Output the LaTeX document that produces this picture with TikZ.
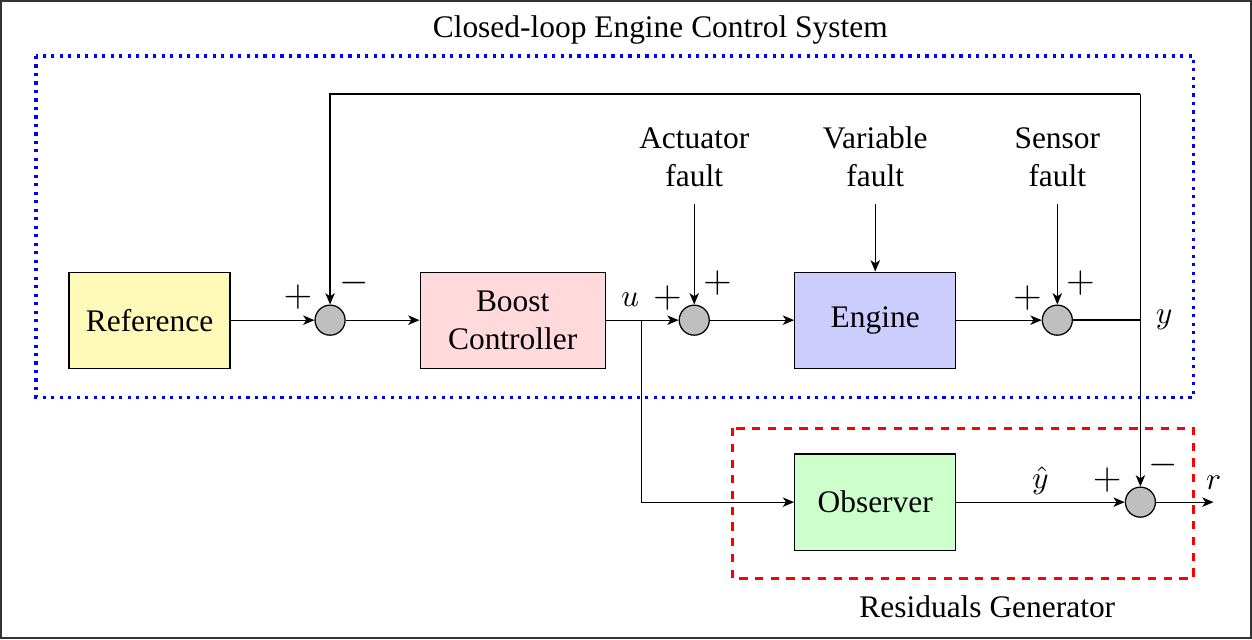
\documentclass[tikz,border=0pt]{standalone}
\usepackage{fontspec}
\setmainfont{Liberation Serif}
\usepackage{xcolor}
\usetikzlibrary{arrows.meta,positioning,calc}
\definecolor{RefYellow}{HTML}{FFFAB8}
\definecolor{CtrlRose}{HTML}{FFD9DC}
\definecolor{EngBlue}{HTML}{CCCCFF}
\definecolor{ObsGreen}{HTML}{CCFFCC}
\definecolor{SumGray}{HTML}{BFBFBF}
\tikzset{
    % Base block style
    blocknode/.style={
        draw=black,
        line width=0.4pt,
        minimum height=1.074cm,
        minimum width=1.8cm,
        align=center,
        font=\normalsize
    },
    % Summing junction
    sumnode/.style={
        circle,
        draw=black,
        fill=SumGray,
        line width=0.4pt,
        minimum size=0.336cm,
        inner sep=0pt
    },
    % Sign next to a junction
    signnode/.style={
        inner sep=0pt,
        font=\large
    },
    % Fault label
    faultnode/.style={
        align=center,
        font=\normalsize
    },
    % Arrow styles
    myarrow/.style={
        -{Stealth[length=3.6pt,width=3pt,inset=1pt]},
        line width=0.4pt,
        draw=black
    },
    myline/.style={
        line width=0.6pt,
        draw=black
    },
    % Group boxes
    loopbox/.style={
        draw=blue,
        line width=1pt,
        dash pattern=on 1pt off 1.7pt
    },
    residbox/.style={
        draw=red,
        line width=1pt,
        dash pattern=on 2.6pt off 2.4pt
    }
}

\begin{document}
\begin{tikzpicture}
    \useasboundingbox (0,0) rectangle (14,-7.148);
    \draw[line width=0.6pt, draw=black!80] (0.015,-0.015) rectangle (13.985,-7.133);

    % Closed loop
    \node (title) at (7.383,-0.336) {Closed-loop Engine Control System};
    \draw[loopbox] (0.403,-0.626) rectangle (13.345,-4.441);
    \node[blocknode, fill=RefYellow] (ref) at (1.672,-3.58) {Reference};
    \node[sumnode] (s1) at (3.691,-3.58) {};
    \node[blocknode, fill=CtrlRose, minimum width=2.07cm] (boost) at (5.733,-3.58) {Boost\\Controller};
    \node[sumnode] (s2) at (7.763,-3.58) {};
    \node[blocknode, fill=EngBlue] (engine) at (9.787,-3.58) {Engine};
    \node[sumnode] (s3) at (11.823,-3.58) {};
    \coordinate (yo) at (12.752,-3.58);
    \node[right=0.05cm of yo] (ylab) {$y$};
    \coordinate (branch) at (7.17,-3.58);
    \node (ulab) at (7.047,-3.356) {$u$};
    \coordinate (fbr) at (12.752,-1.051);

    % Faults
    \node[faultnode] (actf) at (7.763,-1.756) {Actuator\\fault};
    \node[faultnode] (varf) at (9.787,-1.756) {Variable\\fault};
    \node[faultnode] (senf) at (11.823,-1.756) {Sensor\\fault};

    % Residuals generator
    \draw[residbox] (8.188,-4.787) rectangle (13.345,-6.465);
    \node (rgen) at (11.04,-6.79) {Residuals Generator};
    \node[blocknode, fill=ObsGreen] (obs) at (9.787,-5.615) {Observer};
    \node[sumnode] (s4) at (12.752,-5.615) {};
    \node (yhat) at (11.633,-5.37) {$\hat{y}$};
    \coordinate (rout) at (13.57,-5.615);
    \node[above=0.02cm of rout] (rlab) {$r$};

    % Signs
    \node[signnode] (s1p) at ($(s1)+(-0.358,0.263)$) {$+$};
    \node[signnode] (s1m) at ($(s1)+(0.27,0.42)$) {$-$};
    \node[signnode] (s2p) at ($(s2)+(-0.30,0.25)$) {$+$};
    \node[signnode] (s2q) at ($(s2)+(0.26,0.42)$) {$+$};
    \node[signnode] (s3p) at ($(s3)+(-0.335,0.25)$) {$+$};
    \node[signnode] (s3q) at ($(s3)+(0.26,0.42)$) {$+$};
    \node[signnode] (s4p) at ($(s4)+(-0.37,0.25)$) {$+$};
    \node[signnode] (s4m) at ($(s4)+(0.26,0.41)$) {$-$};

    % Connections
    \draw[myarrow] (ref) -- (s1);
    \draw[myarrow] (s1) -- (boost);
    \draw[myarrow] (boost) -- (s2);
    \draw[myarrow] (s2) -- (engine);
    \draw[myarrow] (engine) -- (s3);
    \draw[myline] (s3) -- (yo);
    \draw[myarrow] (fbr) -| (s1);
    \draw[myarrow] (fbr) -- (s4);
    \draw[myarrow] (branch) |- (obs);
    \draw[myarrow] (obs) -- (s4);
    \draw[myarrow] (s4) -- (rout);
    \draw[myarrow, shorten <=2pt] (actf) -- (s2);
    \draw[myarrow, shorten <=2pt] (varf) -- (engine);
    \draw[myarrow, shorten <=2pt] (senf) -- (s3);
\end{tikzpicture}
\end{document}
